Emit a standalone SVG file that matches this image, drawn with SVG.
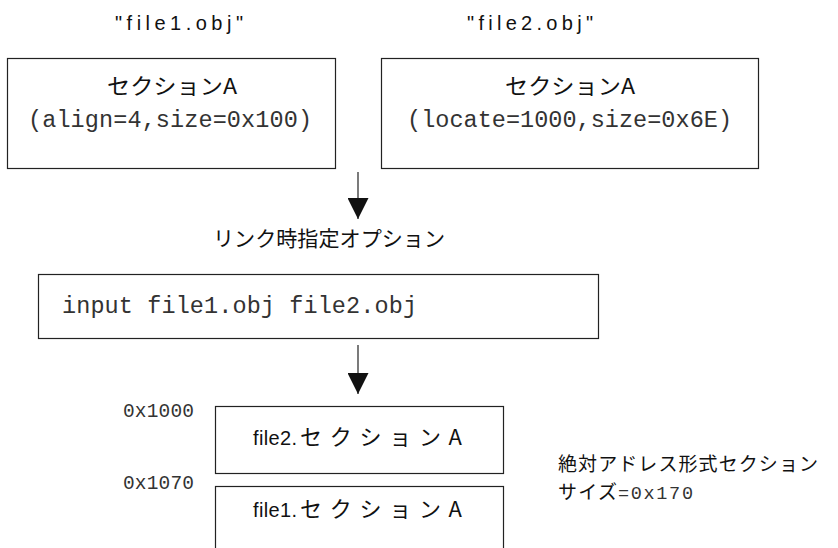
<svg xmlns="http://www.w3.org/2000/svg" width="838" height="548" viewBox="0 0 838 548">
<style>
  .box { fill: #fff; stroke: #222; stroke-width: 1.2; }
  .jp { font-family: "Noto Sans CJK JP", "Liberation Sans", sans-serif; fill: #111; }
  .lab { font-family: "Liberation Sans", "Noto Sans CJK JP", sans-serif; fill: #111; font-size: 20px; }
  .mono { font-family: "Liberation Mono", "DejaVu Sans Mono", monospace; fill: #333; }
  .conn { stroke: #222; stroke-width: 1.2; fill: none; }
</style>
<defs>
  <marker id="arr" markerWidth="22" markerHeight="21" refX="21" refY="10.5" orient="auto" markerUnits="userSpaceOnUse">
    <path d="M0,0 L21,10.5 L0,21 Z" fill="#111"/>
  </marker>
</defs>
<rect width="838" height="548" fill="#fff"/>

<g id="label-file1">
  <text class="lab" x="115" y="30" textLength="128" lengthAdjust="spacing">"file1.obj"</text>
</g>
<g id="label-file2">
  <text class="lab" x="467" y="30" textLength="126" lengthAdjust="spacing">"file2.obj"</text>
</g>

<g id="node-file1-section">
  <rect class="box" x="7.5" y="58.5" width="328" height="110"/>
  <text class="jp" x="107" y="94" font-size="22" textLength="130" lengthAdjust="spacingAndGlyphs">セクションA</text>
  <text class="mono" x="28" y="127" font-size="23.5" textLength="284" lengthAdjust="spacing">(align=4,size=0x100)</text>
</g>

<g id="node-file2-section">
  <rect class="box" x="381.5" y="58.5" width="377" height="110"/>
  <text class="jp" x="505" y="94" font-size="22" textLength="130" lengthAdjust="spacingAndGlyphs">セクションA</text>
  <text class="mono" x="407" y="127" font-size="23.5" textLength="325" lengthAdjust="spacing">(locate=1000,size=0x6E)</text>
</g>

<g id="label-link-option">
  <text class="jp" x="213" y="246" font-size="21" textLength="232" lengthAdjust="spacingAndGlyphs">リンク時指定オプション</text>
</g>

<g id="node-input">
  <rect class="box" x="38.5" y="274.5" width="560" height="64"/>
  <text class="mono" x="62" y="313" font-size="23.5" textLength="355" lengthAdjust="spacing">input file1.obj file2.obj</text>
</g>

<g id="node-file2-placed">
  <rect class="box" x="215.5" y="406.5" width="288" height="67"/>
  <text class="lab" x="253" y="445" textLength="44" lengthAdjust="spacing">file2.</text>
  <text class="jp" x="300" y="445" font-size="22" textLength="162" lengthAdjust="spacing">セクションA</text>
</g>

<g id="node-file1-placed">
  <rect class="box" x="215.5" y="486.5" width="288" height="70"/>
  <text class="lab" x="253" y="517" textLength="44" lengthAdjust="spacing">file1.</text>
  <text class="jp" x="300" y="517" font-size="22" textLength="162" lengthAdjust="spacing">セクションA</text>
</g>

<g id="addr-labels">
  <text class="mono" x="123" y="417" font-size="19.5" textLength="71" lengthAdjust="spacing">0x1000</text>
  <text class="mono" x="123" y="489" font-size="19.5" textLength="71" lengthAdjust="spacing">0x1070</text>
</g>

<g id="note-absolute">
  <text class="jp" x="558" y="471" font-size="19" textLength="260" lengthAdjust="spacing">絶対アドレス形式セクション</text>
  <text class="jp" x="558" y="499" font-size="19" textLength="59" lengthAdjust="spacing">サイズ</text>
  <text class="mono" x="618" y="499" font-size="18.5" textLength="75" lengthAdjust="spacing">=0x170</text>
</g>

<g id="connectors">
  <line class="conn" x1="358" y1="172" x2="358" y2="219" marker-end="url(#arr)"/>
  <line class="conn" x1="358" y1="345" x2="358" y2="394" marker-end="url(#arr)"/>
</g>
</svg>
